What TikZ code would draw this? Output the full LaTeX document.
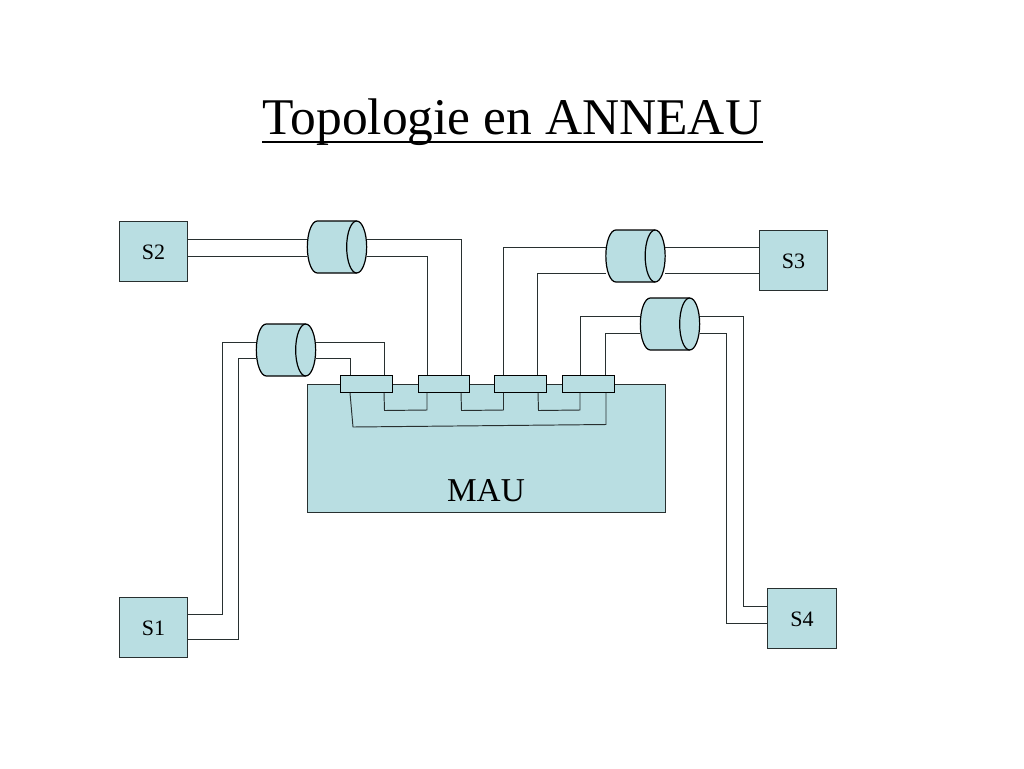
\documentclass[tikz,border=0pt]{standalone}
\usepackage{fontspec}
\setmainfont{Liberation Serif}
\definecolor{boxfill}{HTML}{B9DEE2}
\definecolor{wire}{HTML}{283030}
\tikzset{
  station/.style={draw=wire, line width=0.75pt, fill=boxfill, inner sep=0pt, minimum width=51.5pt, minimum height=44.5pt, text height=12.7pt, text depth=0pt, font=\fontsize{16.5}{18}\selectfont},
  port/.style={draw=black, line width=0.75pt, fill=boxfill, inner sep=0pt, minimum width=38.5pt, minimum height=12.4pt},
  coupler/.style={inner sep=0pt, outer sep=0pt, minimum width=44.5pt, minimum height=39pt},
  couplerline/.style={draw=black, line width=0.9pt, line join=round},
  link/.style={draw=wire, line width=0.72pt}
}
\begin{document}
\begin{tikzpicture}[x=0.75pt, y=-0.75pt]
\useasboundingbox (0,0) rectangle (1024,768);
\node[anchor=base, inner sep=0pt, font=\fontsize{38.6}{42}\selectfont] (title) at (512.5,134) {Topologie en ANNEAU};
\draw[line width=1.4pt] ([yshift=-6.2pt]title.base west) -- ([yshift=-6.2pt]title.base east);
% the MAU and its four ports
\node[draw=wire, line width=0.75pt, fill=boxfill, inner sep=0pt, minimum width=268.5pt, minimum height=96pt] (mau) at (486,448) {};
\node[inner sep=0pt, font=\fontsize{25}{30}\selectfont] (maulabel) at (486,491) {MAU};
\node[port] (p1) at (366.5,384.2) {};
\node[port] (p2) at (443.7,384.2) {};
\node[port] (p3) at (520.5,384.2) {};
\node[port] (p4) at (588.5,384.2) {};
% stations
\node[station] (s1) at (153.5,627.5) {S1};
\node[station] (s2) at (153.5,251.5) {S2};
\node[station] (s3) at (793.5,260.5) {S3};
\node[station] (s4) at (802,618.5) {S4};
% couplers
\node[coupler] (c1) at (286,350) {};
\node[coupler] (c2) at (337,247) {};
\node[coupler] (c3) at (635.5,256) {};
\node[coupler] (c4) at (670,324) {};
\foreach \c in {c1,c2,c3,c4} {
  \draw[couplerline, fill=boxfill] ([xshift=7.5pt]\c.north west) arc[start angle=90, end angle=270, x radius=7.5pt, y radius=19.5pt]
    -- ([xshift=-7.5pt]\c.south east) arc[start angle=-90, end angle=90, x radius=7.5pt, y radius=19.5pt] -- cycle;
  \draw[couplerline] ([xshift=-7.5pt]\c.north east) arc[start angle=90, end angle=270, x radius=7.5pt, y radius=19.5pt];
}
% S1 side
\draw[link] (s1.east |- 0,614) -- (222,614) -- (222,342) -- (c1.west |- 0,342);
\draw[link] (s1.east |- 0,639) -- (238,639) -- (238,358) -- (c1.west |- 0,358);
\draw[link] (c1.east |- 0,342) -- (384,342) -- (p1.north -| 384,0);
\draw[link] (c1.east |- 0,358) -- (350,358) -- (p1.north -| 350,0);
% S2 side
\draw[link] (s2.east |- 0,239) -- (c2.west |- 0,239);
\draw[link] (s2.east |- 0,256) -- (c2.west |- 0,256);
\draw[link] (c2.east |- 0,239) -- (461,239) -- (p2.north -| 461,0);
\draw[link] (c2.east |- 0,256) -- (427,256) -- (p2.north -| 427,0);
% S3 side
\draw[link] (s3.west |- 0,247) -- (c3.east |- 0,247);
\draw[link] (s3.west |- 0,273) -- (c3.east |- 0,273);
\draw[link] (c3.west |- 0,247) -- (503.5,247) -- (p3.north -| 503.5,0);
\draw[link] (c3.west |- 0,273) -- (537.5,273) -- (p3.north -| 537.5,0);
% S4 side
\draw[link] (s4.west |- 0,606) -- (743,606) -- (743,316) -- (c4.east |- 0,316);
\draw[link] (s4.west |- 0,623) -- (726,623) -- (726,333) -- (c4.east |- 0,333);
\draw[link] (c4.west |- 0,316) -- (580,316) -- (p4.north -| 580,0);
\draw[link] (c4.west |- 0,333) -- (605,333) -- (p4.north -| 605,0);
% ring inside the MAU
\draw[link] (p1.south -| 384,0) -- (384.5,410.5) -- (427,410) -- (p2.south -| 427,0);
\draw[link] (p2.south -| 461,0) -- (461.5,410.5) -- (503.5,410) -- (p3.south -| 503.5,0);
\draw[link] (p3.south -| 538,0) -- (538.5,410.5) -- (580,410) -- (p4.south -| 580,0);
\draw[link] (p4.south -| 606,0) -- (606,424.5) -- (353,427) -- (p1.south -| 350,0);
\end{tikzpicture}
\end{document}
